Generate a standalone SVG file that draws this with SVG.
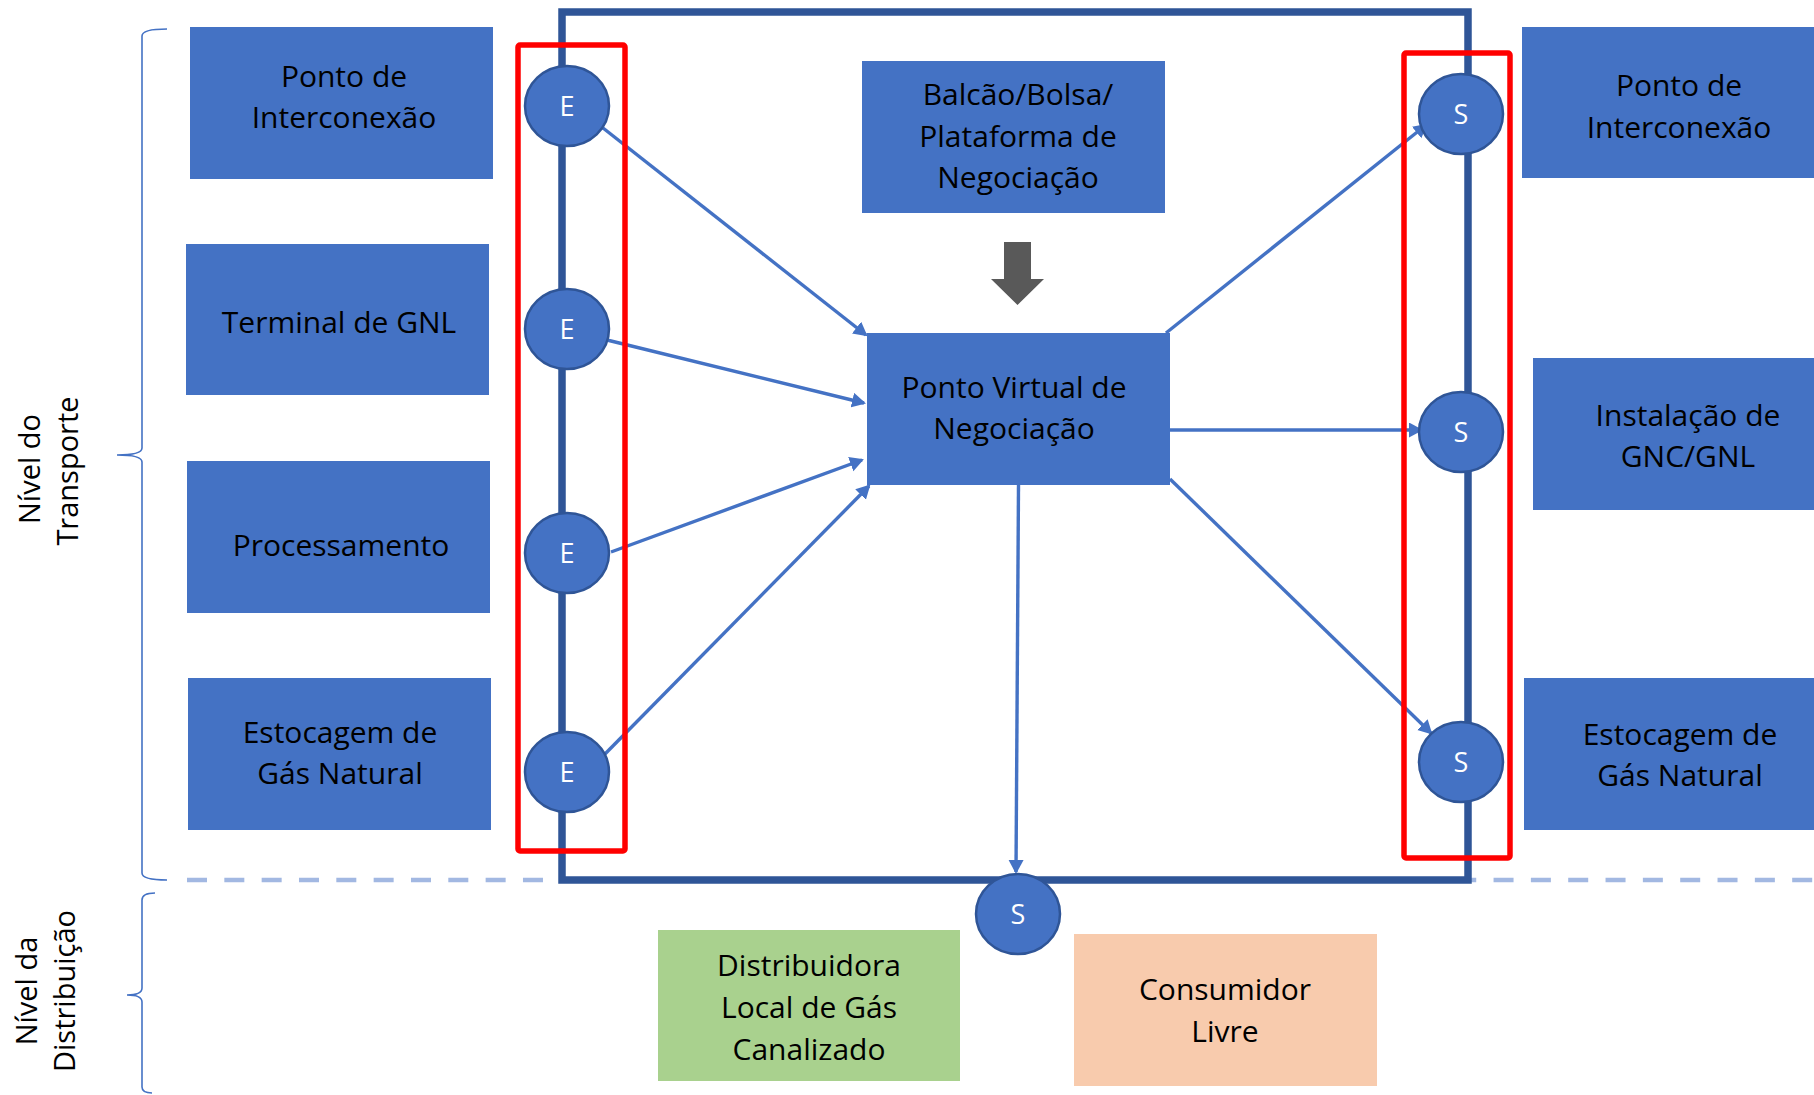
<svg xmlns="http://www.w3.org/2000/svg" width="1814" height="1095" viewBox="0 0 1814 1095">
<defs>
<style>
.box{fill:#4472C4;}
.t{font-family:"Open Sans","Noto Sans","DejaVu Sans",sans-serif;font-size:30px;fill:#000;text-anchor:middle;}
.lbl{font-family:"Open Sans","Noto Sans","DejaVu Sans",sans-serif;font-size:29px;fill:#000;text-anchor:middle;}
.pt{fill:#4472C4;stroke:#2F5597;stroke-width:2.5;}
.pl{font-family:"Open Sans","Noto Sans","DejaVu Sans",sans-serif;font-size:27px;fill:#fff;text-anchor:middle;}
.con{stroke:#4472C4;stroke-width:3.4;fill:none;marker-end:url(#ah);}
.red{fill:none;stroke:#FF0000;stroke-width:5.5;}
.brace{fill:none;stroke:#4472C4;stroke-width:1.6;}
</style>
<marker id="ah" markerUnits="userSpaceOnUse" markerWidth="16" markerHeight="16" refX="12" refY="7.5" orient="auto">
<path d="M0,0 L14,7.5 L0,15 z" fill="#4472C4"/>
</marker>
</defs>
<rect x="0" y="0" width="1814" height="1095" fill="#fff"/>

<g id="levels">
<line x1="187" y1="880" x2="1814" y2="880" stroke="#A2B8E2" stroke-width="4.5" stroke-dasharray="20 17.33"/>
<path class="brace" d="M167,29 Q142,29 142,36 L142,448 Q142,455 117,455 Q142,455 142,462 L142,873 Q142,880 167,880"/>
<path class="brace" d="M155,893 Q142,893 142,900 L142,988 Q142,995 127,995 Q142,995 142,1002 L142,1087 Q142,1093 152,1093"/>
<text class="lbl" transform="translate(40,469) rotate(-90)">Nível do</text>
<text class="lbl" transform="translate(78,471) rotate(-90)">Transporte</text>
<text class="lbl" transform="translate(37,991) rotate(-90)">Nível da</text>
<text class="lbl" transform="translate(75,991) rotate(-90)">Distribuição</text>
</g>

<g id="frame">
<rect x="562" y="12" width="906" height="868" fill="none" stroke="#2F5597" stroke-width="7.5"/>
</g>

<g id="in-ponto-interconexao">
<rect class="box" x="190" y="27" width="303" height="152"/>
<text class="t" x="344" y="87">Ponto de</text>
<text class="t" x="344" y="128">Interconexão</text>
</g>
<g id="in-terminal-gnl">
<rect class="box" x="186" y="244" width="303" height="151"/>
<text class="t" x="339" y="333">Terminal de GNL</text>
</g>
<g id="in-processamento">
<rect class="box" x="187" y="461" width="303" height="152"/>
<text class="t" x="341" y="556">Processamento</text>
</g>
<g id="in-estocagem">
<rect class="box" x="188" y="678" width="303" height="152"/>
<text class="t" x="340" y="743">Estocagem de</text>
<text class="t" x="340" y="784">Gás Natural</text>
</g>

<g id="balcao">
<rect class="box" x="862" y="61" width="303" height="152"/>
<text class="t" x="1018" y="105">Balcão/Bolsa/</text>
<text class="t" x="1018" y="147">Plataforma de</text>
<text class="t" x="1018" y="188">Negociação</text>
</g>
<g id="gray-arrow">
<polygon points="1004,242 1031,242 1031,279 1044,279 1017.5,305 991,279 1004,279" fill="#595959"/>
</g>
<g id="pvn">
<rect class="box" x="867" y="333" width="303" height="152"/>
<text class="t" x="1014" y="398">Ponto Virtual de</text>
<text class="t" x="1014" y="439">Negociação</text>
</g>

<g id="out-ponto-interconexao">
<rect class="box" x="1522" y="27" width="300" height="151"/>
<text class="t" x="1679" y="96">Ponto de</text>
<text class="t" x="1679" y="138">Interconexão</text>
</g>
<g id="out-gnc-gnl">
<rect class="box" x="1533" y="358" width="290" height="152"/>
<text class="t" x="1688" y="426">Instalação de</text>
<text class="t" x="1688" y="467">GNC/GNL</text>
</g>
<g id="out-estocagem">
<rect class="box" x="1524" y="678" width="298" height="152"/>
<text class="t" x="1680" y="745">Estocagem de</text>
<text class="t" x="1680" y="786">Gás Natural</text>
</g>

<g id="distribuidora">
<rect x="658" y="930" width="302" height="151" fill="#A9D18E"/>
<text class="t" x="809" y="976">Distribuidora</text>
<text class="t" x="809" y="1018">Local de Gás</text>
<text class="t" x="809" y="1060">Canalizado</text>
</g>
<g id="consumidor">
<rect x="1074" y="934" width="303" height="152" fill="#F8CBAD"/>
<text class="t" x="1225" y="1000">Consumidor</text>
<text class="t" x="1225" y="1042">Livre</text>
</g>

<g id="connectors">
<line class="con" x1="603" y1="128" x2="866" y2="335"/>
<line class="con" x1="607" y1="340" x2="864" y2="403"/>
<line class="con" x1="611" y1="552" x2="862" y2="460"/>
<line class="con" x1="605" y1="754" x2="869" y2="486"/>
<line class="con" x1="1166" y1="333" x2="1426" y2="125"/>
<line class="con" x1="1170" y1="430" x2="1421" y2="430"/>
<line class="con" x1="1170" y1="479" x2="1431" y2="733"/>
<line class="con" x1="1018.5" y1="485" x2="1016" y2="872"/>
</g>

<g id="e1"><ellipse class="pt" cx="567" cy="106" rx="42" ry="40"/><text class="pl" x="567" y="116">E</text></g>
<g id="e2"><ellipse class="pt" cx="567" cy="329" rx="42" ry="40"/><text class="pl" x="567" y="339">E</text></g>
<g id="e3"><ellipse class="pt" cx="567" cy="553" rx="42" ry="40"/><text class="pl" x="567" y="563">E</text></g>
<g id="e4"><ellipse class="pt" cx="567" cy="772" rx="42" ry="40"/><text class="pl" x="567" y="782">E</text></g>
<g id="s1"><ellipse class="pt" cx="1461" cy="114" rx="42" ry="40"/><text class="pl" x="1461" y="124">S</text></g>
<g id="s2"><ellipse class="pt" cx="1461" cy="432" rx="42" ry="40"/><text class="pl" x="1461" y="442">S</text></g>
<g id="s3"><ellipse class="pt" cx="1461" cy="762" rx="42" ry="40"/><text class="pl" x="1461" y="772">S</text></g>
<g id="s4"><ellipse class="pt" cx="1018" cy="914" rx="42" ry="40"/><text class="pl" x="1018" y="924">S</text></g>

<g id="entry-group"><rect class="red" x="518" y="45" width="107" height="806" rx="2"/></g>
<g id="exit-group"><rect class="red" x="1404" y="53" width="106" height="805" rx="2"/></g>
</svg>
